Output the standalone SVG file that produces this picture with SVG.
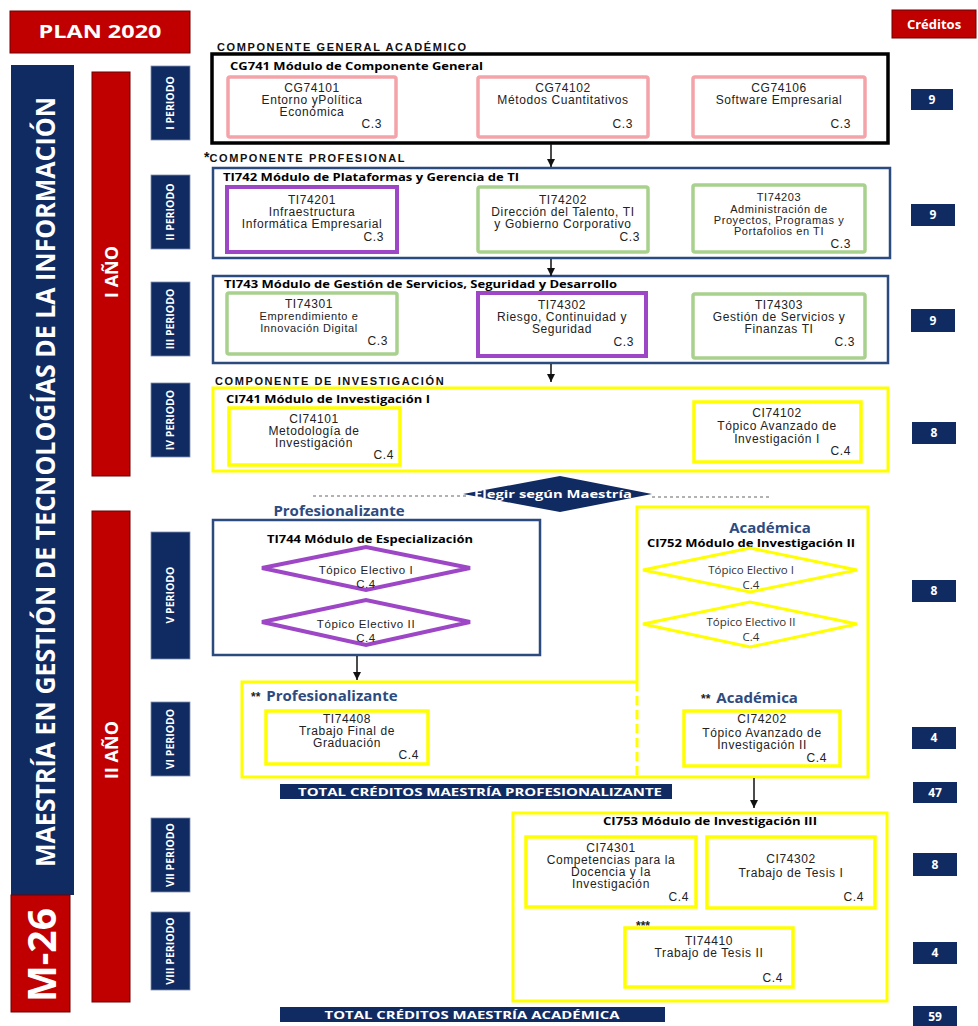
<svg xmlns="http://www.w3.org/2000/svg" width="978" height="1026" viewBox="0 0 978 1026">
<defs>
<style>
.navy{fill:#102a62}
.redb{fill:#c00000;stroke:#6e0000;stroke-width:1}
.pbox{fill:#102a62;stroke:#7f8fae;stroke-width:0.8}
.ptxt{font-family:"Open Sans",sans-serif;font-weight:700;font-size:10.5px;fill:#fff;text-anchor:middle}
.big{font-family:"Open Sans",sans-serif;font-weight:700;fill:#fff;text-anchor:middle}
.sec{font-family:"Liberation Sans",Arial,sans-serif;font-weight:700;font-size:11px;letter-spacing:1.6px;fill:#111}
.mt{font-family:"Open Sans",sans-serif;font-weight:700;font-size:11px;fill:#000}
.mtc{font-family:"Open Sans",sans-serif;font-weight:700;font-size:11px;fill:#000;text-anchor:middle}
.c{font-family:"Liberation Sans",Arial,sans-serif;font-size:12px;letter-spacing:0.6px;fill:#222;text-anchor:middle}
.cd{font-family:"Liberation Sans",Arial,sans-serif;font-size:11.5px;letter-spacing:0.6px;fill:#222;text-anchor:middle}
.cs{font-family:"Liberation Sans",Arial,sans-serif;font-size:11px;letter-spacing:0.6px;fill:#222;text-anchor:middle}
.ce{font-family:"Liberation Sans",Arial,sans-serif;font-size:12px;letter-spacing:0.6px;fill:#222;text-anchor:end}
.cal{font-family:"Open Sans",sans-serif;font-size:11.5px;fill:#333;text-anchor:middle}
.pink{fill:#fff;stroke:#f4a3a8;stroke-width:3.5}
.green{fill:#fff;stroke:#a9d18e;stroke-width:3.5}
.purple{fill:#fff;stroke:#9d47c6;stroke-width:4}
.yel{fill:#fff;stroke:#ffff00;stroke-width:3.5}
.yelo{fill:none;stroke:#ffff00;stroke-width:3}
.modn{fill:#fff;stroke:#2b4a7e;stroke-width:2.5}
.hdr{font-family:"Open Sans",sans-serif;font-weight:700;font-size:15px;fill:#2e4b7f}
.ast{font-family:"Liberation Sans",Arial,sans-serif;font-weight:700;font-size:12px;fill:#222}
.num{font-family:"Open Sans",sans-serif;font-weight:700;font-size:12px;fill:#fff;text-anchor:middle}
.tot{font-family:"Open Sans",sans-serif;font-weight:700;font-size:11px;fill:#fff;text-anchor:middle}
.conn{stroke:#111;stroke-width:1.5;fill:none}
.dash{stroke:#999;stroke-width:1.3;stroke-dasharray:3 3;fill:none}
</style>
<marker id="ah" viewBox="0 0 10 10" refX="10" refY="5" markerWidth="8" markerHeight="8" markerUnits="userSpaceOnUse" orient="auto">
<path d="M0,0 L10,5 L0,10 z" fill="#111"/>
</marker>
</defs>
<rect width="978" height="1026" fill="#fff"/>

<g id="plan">
<rect class="redb" x="10" y="11" width="180" height="42"/>
<text class="big" x="100" y="38" font-size="17" textLength="123" lengthAdjust="spacingAndGlyphs">PLAN 2020</text>
</g>
<g id="creditos-header">
<rect class="redb" x="892" y="10" width="84" height="28"/>
<text class="big" x="934" y="29" font-size="13">Créditos</text>
</g>

<g id="main-title">
<rect class="navy" x="11" y="65" width="63" height="830"/>
<text class="big" font-size="27" transform="translate(55,482) rotate(-90)" textLength="770" lengthAdjust="spacingAndGlyphs">MAESTRÍA EN GESTIÓN DE TECNOLOGÍAS DE LA INFORMACIÓN</text>
</g>
<g id="m26">
<rect class="redb" x="11" y="895" width="59" height="117"/>
<text class="big" font-size="40" transform="translate(56,955) rotate(-90)" textLength="94" lengthAdjust="spacingAndGlyphs">M-26</text>
</g>

<g id="anio1">
<rect class="redb" x="92" y="72" width="38" height="404"/>
<text class="big" font-size="18" transform="translate(118,272) rotate(-90)">I AÑO</text>
</g>
<g id="anio2">
<rect class="redb" x="92" y="511" width="38" height="491"/>
<text class="big" font-size="18" transform="translate(118,750) rotate(-90)">II AÑO</text>
</g>

<g id="periodo1"><rect class="pbox" x="151" y="66" width="39" height="74"/><text class="ptxt" transform="translate(174,103) rotate(-90)">I PERIODO</text></g>
<g id="periodo2"><rect class="pbox" x="151" y="175" width="39" height="74"/><text class="ptxt" transform="translate(174,212) rotate(-90)">II PERIODO</text></g>
<g id="periodo3"><rect class="pbox" x="151" y="282" width="39" height="74"/><text class="ptxt" transform="translate(174,319) rotate(-90)">III PERIODO</text></g>
<g id="periodo4"><rect class="pbox" x="151" y="383" width="39" height="74"/><text class="ptxt" transform="translate(174,420) rotate(-90)">IV PERIODO</text></g>
<g id="periodo5"><rect class="pbox" x="151" y="532" width="39" height="127"/><text class="ptxt" transform="translate(174,595) rotate(-90)">V PERIODO</text></g>
<g id="periodo6"><rect class="pbox" x="151" y="702" width="39" height="74"/><text class="ptxt" transform="translate(174,739) rotate(-90)">VI PERIODO</text></g>
<g id="periodo7"><rect class="pbox" x="151" y="818" width="39" height="74"/><text class="ptxt" transform="translate(174,855) rotate(-90)">VII PERIODO</text></g>
<g id="periodo8"><rect class="pbox" x="151" y="912" width="39" height="78"/><text class="ptxt" transform="translate(174,951) rotate(-90)">VIII PERIODO</text></g>

<!-- Period I -->
<text class="sec" x="217" y="51">COMPONENTE GENERAL ACADÉMICO</text>
<g id="CG741">
<rect x="212" y="54" width="676" height="89" fill="#fff" stroke="#000" stroke-width="3.5"/>
<text class="mt" x="230" y="70" textLength="253" lengthAdjust="spacingAndGlyphs">CG741 Módulo de Componente General</text>
</g>
<g id="CG74101">
<rect class="pink" x="228" y="77" width="168" height="60" rx="2"/>
<text class="c" x="312" y="92">CG74101</text>
<text class="c" x="312" y="104">Entorno yPolítica</text>
<text class="c" x="312" y="116">Económica</text>
<text class="ce" x="382" y="128">C.3</text>
</g>
<g id="CG74102">
<rect class="pink" x="478" y="77" width="170" height="60" rx="2"/>
<text class="c" x="563" y="92">CG74102</text>
<text class="c" x="563" y="104">Métodos Cuantitativos</text>
<text class="ce" x="633" y="128">C.3</text>
</g>
<g id="CG74106">
<rect class="pink" x="693" y="77" width="172" height="60" rx="2"/>
<text class="c" x="779" y="92">CG74106</text>
<text class="c" x="779" y="104">Software Empresarial</text>
<text class="ce" x="851" y="128">C.3</text>
</g>

<!-- Period II -->
<text class="sec" x="204" y="162"><tspan style="font-size:14px;letter-spacing:0">*</tspan>COMPONENTE PROFESIONAL</text>
<g id="TI742">
<rect class="modn" x="213" y="168" width="677" height="90"/>
<text class="mt" x="223" y="181" textLength="296" lengthAdjust="spacingAndGlyphs">TI742 Módulo de Plataformas y Gerencia de TI</text>
</g>
<g id="TI74201">
<rect class="purple" x="227" y="187" width="170" height="65"/>
<text class="c" x="312" y="204">TI74201</text>
<text class="c" x="312" y="216">Infraestructura</text>
<text class="c" x="312" y="228">Informática Empresarial</text>
<text class="ce" x="384" y="241">C.3</text>
</g>
<g id="TI74202">
<rect class="green" x="478" y="187" width="170" height="65" rx="2"/>
<text class="c" x="563" y="204">TI74202</text>
<text class="c" x="563" y="216">Dirección del Talento, TI</text>
<text class="c" x="563" y="228">y Gobierno Corporativo</text>
<text class="ce" x="640" y="241">C.3</text>
</g>
<g id="TI74203">
<rect class="green" x="693" y="185" width="172" height="67" rx="2"/>
<text class="cs" x="779" y="201">TI74203</text>
<text class="cs" x="779" y="213">Administración de</text>
<text class="cs" x="779" y="224">Proyectos, Programas y</text>
<text class="cs" x="779" y="235">Portafolios en TI</text>
<text class="ce" x="851" y="248">C.3</text>
</g>

<!-- Period III -->
<g id="TI743">
<rect class="modn" x="213" y="276" width="675" height="87"/>
<text class="mt" x="224" y="288" textLength="393" lengthAdjust="spacingAndGlyphs">TI743 Módulo de Gestión de Servicios, Seguridad y Desarrollo</text>
</g>
<g id="TI74301">
<rect class="green" x="227" y="293" width="170" height="61" rx="2"/>
<text class="c" x="309" y="308">TI74301</text>
<text class="cs" x="309" y="320">Emprendimiento e</text>
<text class="cs" x="309" y="332">Innovación Digital</text>
<text class="ce" x="388" y="345">C.3</text>
</g>
<g id="TI74302">
<rect class="purple" x="478" y="293" width="168" height="63"/>
<text class="c" x="562" y="309">TI74302</text>
<text class="c" x="562" y="321">Riesgo, Continuidad y</text>
<text class="c" x="562" y="333">Seguridad</text>
<text class="ce" x="634" y="346">C.3</text>
</g>
<g id="TI74303">
<rect class="green" x="693" y="294" width="172" height="64" rx="2"/>
<text class="c" x="779" y="309">TI74303</text>
<text class="c" x="779" y="321">Gestión de Servicios y</text>
<text class="c" x="779" y="333">Finanzas TI</text>
<text class="ce" x="855" y="346">C.3</text>
</g>

<!-- Period IV -->
<text class="sec" x="215" y="385">COMPONENTE DE INVESTIGACIÓN</text>
<g id="CI741">
<rect class="yelo" x="213" y="388" width="675" height="83" fill="#fff"/>
<text class="mt" x="226" y="403" textLength="204" lengthAdjust="spacingAndGlyphs">CI741 Módulo de Investigación I</text>
</g>
<g id="CI74101">
<rect class="yel" x="229" y="408" width="171" height="57"/>
<text class="c" x="314" y="423">CI74101</text>
<text class="c" x="314" y="435">Metodología de</text>
<text class="c" x="314" y="447">Investigación</text>
<text class="ce" x="394" y="459">C.4</text>
</g>
<g id="CI74102">
<rect class="yel" x="694" y="402" width="167" height="60"/>
<text class="c" x="777" y="417">CI74102</text>
<text class="c" x="777" y="430">Tópico Avanzado de</text>
<text class="c" x="777" y="443">Investigación I</text>
<text class="ce" x="851" y="455">C.4</text>
</g>

<!-- Divider -->
<g id="elegir">
<line class="dash" x1="313" y1="496" x2="466" y2="496"/>
<line class="dash" x1="652" y1="497" x2="770" y2="497"/>
<polygon class="navy" points="463,494 560,476 652,494 560,512"/>
<text class="big" x="553" y="498" font-size="11" textLength="158" lengthAdjust="spacingAndGlyphs">Elegir según  Maestría</text>
</g>

<!-- Period V Profesionalizante -->
<text class="hdr" x="339" y="516" text-anchor="middle">Profesionalizante</text>
<g id="TI744">
<rect class="modn" x="213" y="520" width="327" height="135"/>
<text class="mtc" x="370" y="543" textLength="206" lengthAdjust="spacingAndGlyphs">TI744 Módulo de Especialización</text>
</g>
<g id="TI744-e1">
<polygon points="262,568 366,547 470,568 366,590" fill="#fff" stroke="#9d47c6" stroke-width="4"/>
<text class="cd" x="366" y="574">Tópico Electivo I</text>
<text class="cd" x="366" y="588">C.4</text>
</g>
<g id="TI744-e2">
<polygon points="262,622 366,600 470,622 366,645" fill="#fff" stroke="#9d47c6" stroke-width="4"/>
<text class="cd" x="366" y="628">Tópico Electivo II</text>
<text class="cd" x="366" y="642">C.4</text>
</g>

<!-- Académica region + Profesionalizante VI -->
<g id="CI752">
<path d="M637,682 V507 H868 V777 H242 V682 H637" fill="none" stroke="#ffff00" stroke-width="3"/>
<line x1="637" y1="682" x2="637" y2="777" stroke="#ffff00" stroke-width="3" stroke-dasharray="9 5"/>
<text class="hdr" x="770" y="533" text-anchor="middle">Académica</text>
<text class="mtc" x="751" y="547" textLength="208" lengthAdjust="spacingAndGlyphs">CI752 Módulo de Investigación II</text>
</g>
<g id="CI752-e1">
<polygon points="643,570 750,548 857,570 750,592" fill="#fff" stroke="#ffff00" stroke-width="3"/>
<text class="cal" x="751" y="574">Tópico Electivo I</text>
<text class="cal" x="751" y="589">C.4</text>
</g>
<g id="CI752-e2">
<polygon points="643,624 750,602 857,624 750,647" fill="#fff" stroke="#ffff00" stroke-width="3"/>
<text class="cal" x="751" y="626">Tópico Electivo II</text>
<text class="cal" x="751" y="641">C.4</text>
</g>

<g id="prof-header">
<text x="251" y="701"><tspan class="ast">**</tspan><tspan class="hdr" dx="6">Profesionalizante</tspan></text>
</g>
<g id="TI74408">
<rect class="yel" x="266" y="711" width="162" height="53"/>
<text class="c" x="347" y="723">TI74408</text>
<text class="c" x="347" y="735">Trabajo Final de</text>
<text class="c" x="347" y="747">Graduación</text>
<text class="ce" x="419" y="759">C.4</text>
</g>
<g id="acad-header">
<text x="701" y="703"><tspan class="ast">**</tspan><tspan class="hdr" dx="6">Académica</tspan></text>
</g>
<g id="CI74202">
<rect class="yel" x="684" y="711" width="156" height="55"/>
<text class="c" x="762" y="723">CI74202</text>
<text class="c" x="762" y="737">Tópico Avanzado de</text>
<text class="c" x="762" y="749">Investigación II</text>
<text class="ce" x="827" y="762">C.4</text>
</g>

<g id="total-prof">
<rect class="navy" x="280" y="784" width="392" height="15"/>
<text class="tot" x="480" y="796" textLength="364" lengthAdjust="spacingAndGlyphs">TOTAL CRÉDITOS MAESTRÍA PROFESIONALIZANTE</text>
</g>

<!-- Period VII / VIII -->
<g id="CI753">
<rect class="yelo" x="513" y="813" width="374" height="188"/>
<text class="mtc" x="710" y="825" textLength="214" lengthAdjust="spacingAndGlyphs">CI753 Módulo de Investigación III</text>
</g>
<g id="CI74301">
<rect class="yel" x="526" y="837" width="170" height="70"/>
<text class="c" x="611" y="852">CI74301</text>
<text class="c" x="611" y="864">Competencias para la</text>
<text class="c" x="611" y="876">Docencia y la</text>
<text class="c" x="611" y="888">Investigación</text>
<text class="ce" x="689" y="901">C.4</text>
</g>
<g id="CI74302">
<rect class="yel" x="707" y="837" width="168" height="71"/>
<text class="c" x="791" y="863">CI74302</text>
<text class="c" x="791" y="877">Trabajo de Tesis I</text>
<text class="ce" x="864" y="901">C.4</text>
</g>
<g id="TI74410">
<text class="ast" x="636" y="930">***</text>
<rect class="yel" x="625" y="928" width="168" height="59"/>
<text class="c" x="709" y="945">TI74410</text>
<text class="c" x="709" y="957">Trabajo de Tesis II</text>
<text class="ce" x="783" y="982">C.4</text>
</g>

<g id="total-acad">
<rect class="navy" x="280" y="1007" width="385" height="15"/>
<text class="tot" x="472" y="1019" textLength="295" lengthAdjust="spacingAndGlyphs">TOTAL CRÉDITOS MAESTRÍA ACADÉMICA</text>
</g>

<!-- Credits -->
<g id="creditos">
<rect class="navy" x="911" y="89" width="42" height="21"/><text class="num" x="932" y="104">9</text>
<rect class="navy" x="911" y="204" width="44" height="22"/><text class="num" x="933" y="219">9</text>
<rect class="navy" x="911" y="309" width="44" height="23"/><text class="num" x="933" y="325">9</text>
<rect class="navy" x="912" y="422" width="44" height="22"/><text class="num" x="934" y="437">8</text>
<rect class="navy" x="912" y="580" width="44" height="22"/><text class="num" x="934" y="595">8</text>
<rect class="navy" x="912" y="727" width="44" height="22"/><text class="num" x="934" y="742">4</text>
<rect class="navy" x="913" y="782" width="44" height="21"/><text class="num" x="935" y="797">47</text>
<rect class="navy" x="913" y="853" width="44" height="23"/><text class="num" x="935" y="869">8</text>
<rect class="navy" x="913" y="942" width="44" height="22"/><text class="num" x="935" y="957">4</text>
<rect class="navy" x="913" y="1006" width="44" height="20"/><text class="num" x="935" y="1021">59</text>
</g>

<g id="connectors">
<line class="conn" x1="551" y1="144" x2="551" y2="167" marker-end="url(#ah)"/>
<line class="conn" x1="551" y1="259" x2="551" y2="276" marker-end="url(#ah)"/>
<line class="conn" x1="551" y1="364" x2="551" y2="382" marker-end="url(#ah)"/>
<line class="conn" x1="357" y1="656" x2="357" y2="680" marker-end="url(#ah)"/>
<line class="conn" x1="754" y1="778" x2="754" y2="808" marker-end="url(#ah)"/>
</g>
</svg>
